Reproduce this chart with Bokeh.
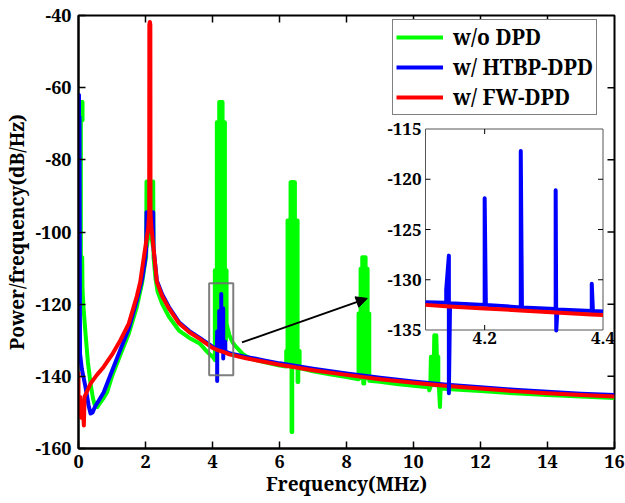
import numpy as np
from bokeh.plotting import figure
from bokeh.models import (Range1d, Legend, LegendItem, Arrow, NormalHead,
                          FixedTicker, BoxAnnotation)
from bokeh.embed import file_html
from bokeh.resources import INLINE
from bokeh.core.properties import value

# ---------------- data ----------------
x_ticks = [0, 2, 4, 6, 8, 10, 12, 14, 16]
x_tick_labels = ["0", "2", "4", "6", "8", "10", "12", "14", "16"]
y_ticks = [-160, -140, -120, -100, -80, -60, -40]
y_tick_labels = ["-160", "-140", "-120", "-100", "-80", "-60", "-40"]

inset_x_ticks = [4.2, 4.4]
inset_x_tick_labels = ["4.2", "4.4"]
inset_y_ticks = [-135, -130, -125, -120, -115]
inset_y_tick_labels = ["-135", "-130", "-125", "-120", "-115"]

series_names = ["w/o DPD", "w/ HTBP-DPD", "w/ FW-DPD"]

green_freq = [0.00, 0.03, 0.06, 0.12, 0.12, 0.07, 0.07, 0.11, 0.12, 0.15, 0.21, 0.28, 0.36, 0.43, 0.50, 0.56,
              0.65, 0.75, 0.85, 1.00, 1.25, 1.50, 1.74, 1.90, 1.98, 2.02, 2.03, 2.04, 2.04, 2.13,
              2.22, 2.22, 2.23, 2.24, 2.30, 2.36, 2.50, 2.70, 3.00, 3.30, 3.63, 3.85, 4.02,
              4.07, 4.07, 4.10, 4.10, 4.13, 4.13, 4.17, 4.17, 4.20, 4.20, 4.23, 4.23, 4.26, 4.26,
              4.30, 4.30, 4.33, 4.33, 4.37, 4.37, 4.40, 4.40, 4.42, 4.42,
              4.50, 4.60, 4.72, 4.90, 5.10, 5.50, 6.00,
              6.20, 6.20, 6.24, 6.24, 6.27, 6.27, 6.30, 6.30, 6.33, 6.33, 6.36, 6.36, 6.38, 6.38,
              6.41, 6.41, 6.44, 6.44, 6.46, 6.46, 6.50, 6.50, 6.53, 6.53, 6.54, 6.54, 6.56, 6.56,
              6.60, 6.60, 7.00, 7.50, 8.00,
              8.36, 8.36, 8.39, 8.39, 8.42, 8.42, 8.45, 8.45, 8.47, 8.47, 8.50, 8.50, 8.53, 8.53,
              8.57, 8.57, 8.60, 8.60, 8.63, 8.63, 8.66, 8.66, 8.68, 8.68, 9.00, 9.50, 10.00,
              10.45, 10.47, 10.50, 10.52, 10.55, 10.55, 10.58, 10.58, 10.61, 10.62, 10.65, 10.65,
              10.67, 10.68, 10.70, 10.74, 10.74, 10.76, 10.79, 10.81,
              11.00, 12.00, 13.00, 14.00, 15.00, 16.00]
green_db = [-118, -92, -64, -64, -69, -69, -107, -107, -116, -121, -128.2, -136, -142, -146, -148.5, -148.5,
            -147.3, -146, -144.5, -140, -134, -128.2, -120.8, -114, -109, -107, -86, -86, -104, -98,
            -104, -86, -86, -107, -113, -116.5, -120, -123.5, -127.3, -129.3, -131, -133.3, -134.7,
            -135.5, -110.6, -110.6, -132.6, -132.6, -69.6, -69.6, -132.6, -132.6, -64, -64, -132.6, -132.6, -64,
            -64, -132.6, -132.6, -69.6, -69.6, -130, -130, -110.6, -110.6, -125.4,
            -128.5, -130.6, -132, -133.8, -135, -136, -137,
            -137.3, -133, -133, -96.8, -96.8, -136.5, -136.5, -96.8, -96.8, -86.2, -86.2, -155.4, -155.4, -86.2,
            -86.2, -137, -137, -86.2, -86.2, -96.8, -96.8, -137, -137, -96.8, -96.8, -141.6, -141.6, -133,
            -133, -137.7, -138.6, -139.4, -140.2,
            -140.8, -122.6, -122.6, -140.5, -140.5, -110.2, -110.2, -140.5, -140.5, -107, -107, -142, -142, -107,
            -107, -140.5, -140.5, -110.2, -110.2, -140.5, -140.5, -122.6, -122.6, -141.2, -141.5, -142.1, -142.6,
            -143.0, -143.9, -143.1, -134.6, -134.6, -142.5, -142.5, -134.6, -134.6, -128.6, -128.6, -142.5,
            -142.5, -128.6, -134.6, -134.6, -142.5, -143.2, -148.5, -143.3,
            -143.5, -144.1, -144.7, -145.2, -145.6, -146.0]

blue_freq = [0.000, 0.000, 0.015, 0.015, 0.030, 0.045, 0.10, 0.21, 0.30, 0.36, 0.42, 0.50, 0.62,
             0.75, 1.00, 1.25, 1.50, 1.74, 1.90, 1.98, 2.02, 2.03, 2.04, 2.04, 2.13, 2.22, 2.22,
             2.23, 2.24, 2.34, 2.50, 2.70, 3.00, 3.30, 3.63, 4.00, 4.10,
             4.135, 4.135, 4.1395, 4.1395, 4.1415, 4.200, 4.200, 4.202, 4.261, 4.261, 4.263,
             4.320, 4.320, 4.321, 4.323, 4.381, 4.381, 4.383, 4.400,
             4.50, 5.00, 5.50, 6.00, 7.00, 8.00, 9.00, 10.00, 11.00, 12.00, 13.00, 14.00, 15.00, 16.00]
blue_db = [-133, -62, -62, -133, -68, -133.7, -138, -143, -148, -150.3, -150, -148.3, -146.5,
           -144.5, -138.5, -132.6, -126.8, -119, -113, -108.5, -105, -94.5, -94.5, -101, -97, -101, -94.5,
           -94.5, -104.5, -113.5, -117.3, -120.8, -125, -127.4, -129.4, -131.8, -132.25,
           -132.3, -131, -127.6, -141.3, -132.35, -132.5, -121.9, -132.5, -132.75, -117.2, -132.75,
           -132.9, -121.1, -135.05, -132.95, -133.1, -130.4, -133.1, -133.15,
           -133.6, -134.6, -135.5, -136.4, -137.9, -139.2, -140.4, -141.4, -142.3, -143.0, -143.7, -144.3, -144.8, -145.2]

red_freq = [0.00, 0.00, 0.03, 0.05, 0.09, 0.12, 0.16, 0.18, 0.36, 0.55, 0.75, 1.00, 1.25, 1.50,
            1.74, 1.84, 1.99, 2.08, 2.11, 2.115, 2.13, 2.145, 2.15, 2.18, 2.24, 2.34, 2.50, 2.70,
            3.00, 3.30, 3.63, 4.00, 4.10, 4.14, 4.20, 4.26, 4.32, 4.38, 4.40, 4.50,
            5.00, 5.50, 6.00, 7.00, 8.00, 9.00, 10.00, 11.00, 12.00, 13.00, 14.00, 15.00, 16.00]
red_db = [-138.8, -149.4, -151.3, -145.7, -151.5, -147, -153.6, -145.7, -142, -139.6, -137.4, -134, -130, -125.4,
          -117.8, -114, -104.5, -99, -95, -42.5, -41.8, -42.5, -95, -99, -104.5, -113.9, -117.8, -121.2,
          -125.3, -127.7, -129.7, -132.1, -132.5, -132.65, -132.85, -133.05, -133.25, -133.45, -133.5, -133.9,
          -135, -135.9, -136.8, -138.3, -139.6, -140.8, -141.8, -142.7, -143.4, -144.1, -144.7, -145.2, -145.6]

# ---------------- layout / style constants ----------------
FONT = "Noto Serif"
GREEN, BLUE, RED = "#00ff00", "#0000ff", "#ff0000"
W, H = 625, 503
FRAME_L, FRAME_T, FRAME_R, FRAME_B = 78, 15, 614, 448
INSET_X = (4.1, 4.4)
INSET_Y = (-135, -115)
INSET_PX = (425, 602.5, 128.5, 329.5)     # left, right, top, bottom in window pixels
ZOOM_BOX = (3.9, 4.62, -139.7, -114.2)    # left, right, bottom, top
ARROW = (4.88, -130.6, 8.62, -118.4)
TICK_LEN = 7

p = figure(width=W, height=H,
           x_range=Range1d(0, 16), y_range=Range1d(-160, -40),
           output_backend="svg", toolbar_location=None,
           min_border_left=FRAME_L, min_border_right=W - FRAME_R,
           min_border_top=FRAME_T, min_border_bottom=H - FRAME_B,
           x_axis_label="Frequency(MHz)", y_axis_label="Power/frequency(dB/Hz)")
p.background_fill_color = "white"
p.border_fill_color = "white"
p.xgrid.visible = False
p.ygrid.visible = False
p.outline_line_color = "black"
p.outline_line_width = 2

p.xaxis.ticker = FixedTicker(ticks=x_ticks)
p.xaxis.major_label_overrides = dict(zip(x_ticks, x_tick_labels))
p.yaxis.ticker = FixedTicker(ticks=y_ticks)
p.yaxis.major_label_overrides = dict(zip(y_ticks, y_tick_labels))
for ax in p.xaxis + p.yaxis:
    ax.axis_line_width = 2
    ax.axis_line_color = "black"
    ax.major_tick_in = TICK_LEN
    ax.major_tick_out = 0
    ax.major_tick_line_width = 1.5
    ax.minor_tick_line_color = None
    ax.major_label_text_font = FONT
    ax.major_label_text_font_style = "bold"
    ax.major_label_text_font_size = "18px"
    ax.major_label_text_color = "black"
    ax.axis_label_text_font = FONT
    ax.axis_label_text_font_style = "bold"
    ax.axis_label_text_font_size = "19px"
    ax.axis_label_text_color = "black"
p.xaxis.major_label_standoff = 6
p.yaxis.major_label_standoff = 7
p.xaxis.axis_label_standoff = 0
p.yaxis.axis_label_standoff = 2

# ---------------- main curves ----------------
r_g = p.line(green_freq, green_db, line_color=GREEN, line_width=4, line_join="round")
r_b = p.line(blue_freq, blue_db, line_color=BLUE, line_width=4, line_join="round")
r_r = p.line(red_freq, red_db, line_color=RED, line_width=4, line_join="round")

# inward ticks on the top and right edges of the box
xt_in = x_ticks[1:-1]
yt_in = y_ticks[1:-1]
p.ray(x=xt_in, y=[y_ticks[-1]] * len(xt_in), length=TICK_LEN, length_units="screen",
      angle=-np.pi / 2, line_color="black", line_width=1.5)
p.ray(x=[x_ticks[-1]] * len(yt_in), y=yt_in, length=TICK_LEN, length_units="screen",
      angle=np.pi, line_color="black", line_width=1.5)

# zoom box and arrow
p.add_layout(BoxAnnotation(left=ZOOM_BOX[0], right=ZOOM_BOX[1], bottom=ZOOM_BOX[2], top=ZOOM_BOX[3],
                           fill_alpha=0, line_color="#707070", line_width=2, line_alpha=0.9))
p.add_layout(Arrow(end=NormalHead(size=11, fill_color="black", line_color="black"),
                   x_start=ARROW[0], y_start=ARROW[1], x_end=ARROW[2], y_end=ARROW[3],
                   line_color="black", line_width=2))

# ---------------- inset (extra ranges mapped onto a sub-rectangle of the frame) ----------------
il, ir, it, ib = INSET_PX
xpp = (INSET_X[1] - INSET_X[0]) / (ir - il)
ypp = (INSET_Y[1] - INSET_Y[0]) / (ib - it)
p.extra_x_ranges = {"ix": Range1d(INSET_X[0] - (il - FRAME_L) * xpp, INSET_X[1] + (FRAME_R - ir) * xpp)}
p.extra_y_ranges = {"iy": Range1d(INSET_Y[0] - (FRAME_B - ib) * ypp, INSET_Y[1] + (it - FRAME_T) * ypp)}
kw = dict(x_range_name="ix", y_range_name="iy")

p.quad(left=[INSET_X[0]], right=[INSET_X[1]], bottom=[INSET_Y[0]], top=[INSET_Y[1]],
       fill_color="white", line_color="#555555", line_width=1, **kw)

bf, bd = np.array(blue_freq), np.array(blue_db)
rf, rd = np.array(red_freq), np.array(red_db)
mb = (bf >= INSET_X[0]) & (bf <= INSET_X[1])
mr = (rf >= INSET_X[0]) & (rf <= INSET_X[1])
p.line(bf[mb], bd[mb], line_color=BLUE, line_width=4, line_join="round", **kw)
p.line(rf[mr], rd[mr], line_color=RED, line_width=4, line_join="round", **kw)

# inset ticks (inward)
iyt = [t for t in inset_y_ticks if INSET_Y[0] < t < INSET_Y[1]]
ixt = [t for t in inset_x_ticks if INSET_X[0] < t < INSET_X[1]]
p.ray(x=[INSET_X[0]] * len(iyt), y=iyt, length=5, length_units="screen", angle=0,
      line_color="black", line_width=1, **kw)
p.ray(x=[INSET_X[1]] * len(iyt), y=iyt, length=5, length_units="screen", angle=np.pi,
      line_color="black", line_width=1, **kw)
p.ray(x=ixt, y=[INSET_Y[0]] * len(ixt), length=5, length_units="screen", angle=np.pi / 2,
      line_color="black", line_width=1, **kw)
p.ray(x=ixt, y=[INSET_Y[1]] * len(ixt), length=5, length_units="screen", angle=-np.pi / 2,
      line_color="black", line_width=1, **kw)

p.text(x=[INSET_X[0]] * len(inset_y_ticks), y=inset_y_ticks, text=inset_y_tick_labels,
       text_font=value(FONT), text_font_style="bold", text_font_size="17px", text_color="black",
       text_align="right", text_baseline="middle", x_offset=-4, **kw)
p.text(x=inset_x_ticks, y=[INSET_Y[0]] * len(inset_x_ticks), text=inset_x_tick_labels,
       text_font=value(FONT), text_font_style="bold", text_font_size="17px", text_color="black",
       text_align="center", text_baseline="top", y_offset=2, **kw)

# ---------------- legend ----------------
legend = Legend(items=[LegendItem(label=series_names[0], renderers=[r_g]),
                       LegendItem(label=series_names[1], renderers=[r_b]),
                       LegendItem(label=series_names[2], renderers=[r_r])],
                location=(314, 333), orientation="vertical",
                label_text_font=FONT, label_text_font_style="bold", label_text_font_size="21px",
                label_text_color="black", glyph_width=47, glyph_height=26, label_height=26,
                label_standoff=10, spacing=2, padding=3, margin=0,
                border_line_color="black", border_line_width=1,
                background_fill_color="white", background_fill_alpha=1)
p.add_layout(legend)

open("out.html", "w").write(file_html(p, INLINE))
